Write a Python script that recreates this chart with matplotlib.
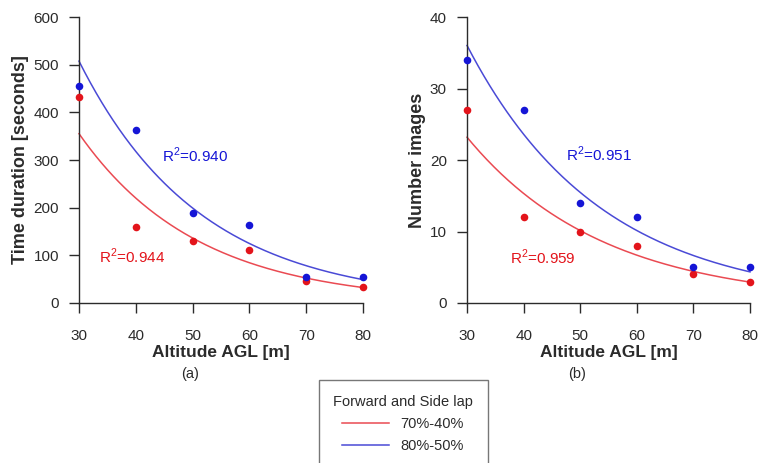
import numpy as np
import matplotlib
matplotlib.use('Agg')
from matplotlib import pyplot as plt
from matplotlib.lines import Line2D
plt.rcParams['font.family'] = ['Liberation Sans', 'DejaVu Sans']
plt.rcParams['mathtext.fontset'] = 'custom'
plt.rcParams['mathtext.rm'] = 'Liberation Sans'

altitude = [30, 40, 50, 60, 70, 80]
time_7040 = [432, 160, 131, 111, 46, 33]
time_8050 = [455, 363, 188, 164, 55, 55]
img_7040 = [27, 12, 10, 8, 4, 3]
img_8050 = [34, 27, 14, 12, 5, 5]
r2_time = ['0.944', '0.940']
r2_img = ['0.959', '0.951']
series_labels = ['70%-40%', '80%-50%']

RED = '#e3141b'
BLUE = '#1515d6'
LRED = '#ea4a52'
LBLUE = '#4a4ad6'
INK = '#2b2b2b'


def exp_fit(x, y):
    # exponential trend line, fitted on log(y)
    k, b = np.polyfit(x, np.log(y), 1)
    xs = np.linspace(min(x), max(x), 200)
    return xs, np.exp(b + k * xs)


def panel(ax, red, blue, ylim, ystep, ylabel, r2, r2_pos, sub):
    x = np.array(altitude)
    for vals, c, lc in [(red, RED, LRED), (blue, BLUE, LBLUE)]:
        xs, ys = exp_fit(x, np.array(vals))
        ax.plot(xs, ys, color=lc, lw=1.1, clip_on=False)
        ax.scatter(x, vals, s=30, color=c, zorder=3, clip_on=False, linewidths=0)
    ax.set_xlim(30, 80)
    ax.set_ylim(*ylim)
    ax.set_xticks(altitude)
    ax.set_yticks(np.arange(ylim[0], ylim[1] + 1, ystep))
    for s in ['top', 'right']:
        ax.spines[s].set_visible(False)
    for s in ['left', 'bottom']:
        ax.spines[s].set_color(INK)
        ax.spines[s].set_linewidth(1.0)
    ax.tick_params(axis='both', direction='out', length=7.5, width=1.0,
                   color=INK, labelcolor=INK, labelsize=11)
    ax.tick_params(axis='x', pad=11)
    ax.tick_params(axis='y', pad=7)
    ax.set_xlabel('Altitude AGL [m]', fontsize=12.5, fontweight='bold', color=INK, labelpad=2)
    ax.set_ylabel(ylabel, fontsize=13, fontweight='bold', color=INK, labelpad=3)
    ax.text(r2_pos[0][0], r2_pos[0][1], r'R$^\mathregular{2}$=' + r2[0], color=RED,
            fontsize=11, va='center', ha='left')
    ax.text(r2_pos[1][0], r2_pos[1][1], r'R$^\mathregular{2}$=' + r2[1], color=BLUE,
            fontsize=11, va='center', ha='left')
    ax.text(0.39, -0.25, sub, transform=ax.transAxes, ha='center', va='center',
            fontsize=10.5, color=INK)


fig = plt.figure(figsize=(7.62, 4.63), dpi=100)
ax1 = fig.add_axes([0.1037, 0.3456, 0.3727, 0.6174])
ax2 = fig.add_axes([0.6129, 0.3456, 0.3714, 0.6174])

panel(ax1, time_7040, time_8050, (0, 600), 100, 'Time duration [seconds]',
      r2_time, [(33.6, 97), (44.6, 310)], '(a)')
panel(ax2, img_7040, img_8050, (0, 40), 10, 'Number images',
      r2_img, [(37.6, 6.4), (47.5, 20.8)], '(b)')

handles = [Line2D([], [], color=LRED, lw=1.1), Line2D([], [], color=LBLUE, lw=1.1)]
leg = fig.legend(handles, series_labels, title='Forward and Side lap',
                 loc='upper center', bbox_to_anchor=(0.529, 0.179), borderaxespad=0,
                 fontsize=10.5, title_fontsize=10.5, frameon=True, fancybox=False,
                 edgecolor='#555555', handlelength=3.2, handletextpad=0.8,
                 labelspacing=0.55, borderpad=1.0)
leg.get_frame().set_linewidth(1.0)
leg.get_title().set_color(INK)
for t in leg.get_texts():
    t.set_color(INK)

fig.savefig('out.png', dpi=100)
